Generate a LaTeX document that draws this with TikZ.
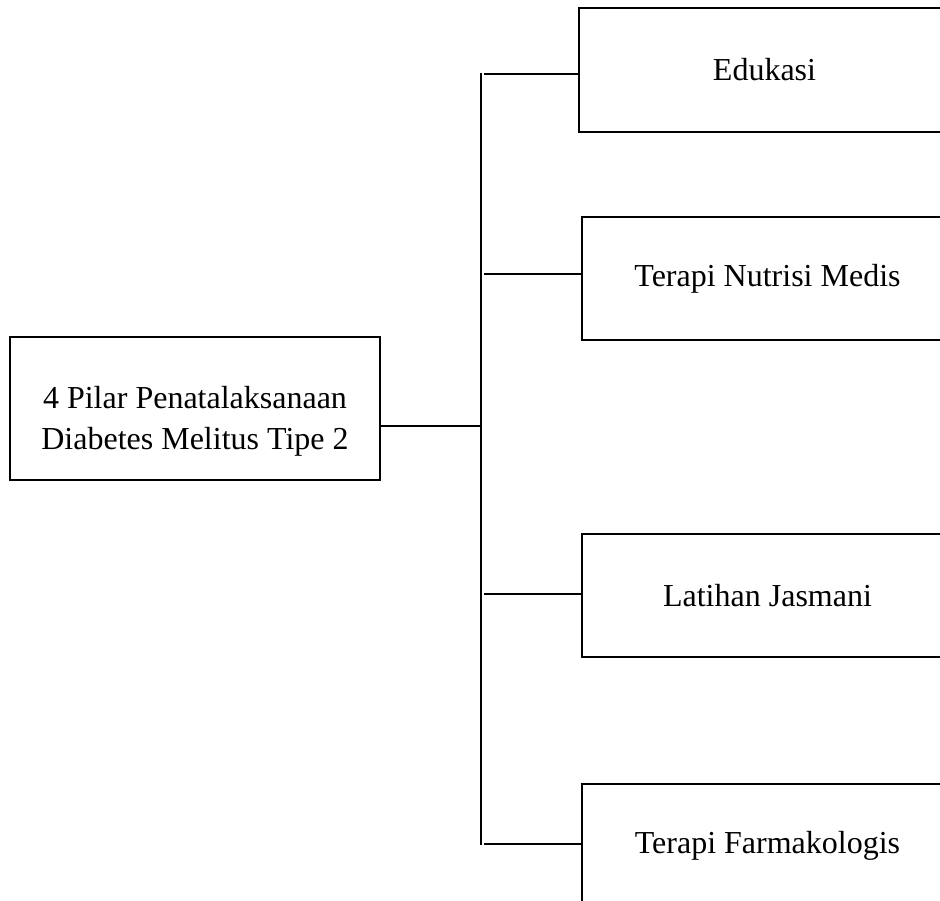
\documentclass[tikz,border=0pt]{standalone}
\usepackage{fontspec}
\setmainfont{Liberation Serif}
\begin{document}
\begin{tikzpicture}[x=1pt,y=-1pt,
  box/.style={draw=black,line width=2pt,inner sep=0pt},
  txt/.style={font=\fontsize{32}{41}\selectfont,align=center,inner sep=0pt},
  conn/.style={draw=black,line width=2pt}]
\useasboundingbox (0,0) rectangle (940,901);
\clip (0,0) rectangle (940,901);
% main box
\node[box,minimum width=370pt,minimum height=143pt] (main) at (195,408.5) {};
\node[txt] (maintxt) at (195,421) {4 Pilar Penatalaksanaan\\Diabetes Melitus Tipe 2};
% right boxes
\node[box,txt,minimum width=371pt,minimum height=124pt] (b1) at (764.5,70) {Edukasi};
\node[box,txt,minimum width=371pt,minimum height=123pt] (b2) at (767.5,278.5) {Terapi Nutrisi Medis};
\node[box,txt,minimum width=371pt,minimum height=123pt] (b3) at (767.5,595.5) {Latihan Jasmani};
\node[box,txt,minimum width=371pt,minimum height=123pt] (b4) at (767.5,845.5) {Terapi Farmakologis};
% trunk coordinates
\coordinate (j0) at (480,426);
\coordinate (j1) at (481,73);
\coordinate (j4) at (481,845);
\coordinate (k1) at (484,74);
\coordinate (k2) at (484,274);
\coordinate (k3) at (484,594);
\coordinate (k4) at (484,844);
\draw[conn] (main.east |- j0) -- (j0);
\draw[conn] (j1) -- (j4);
\draw[conn] (k1) -- (k1 -| b1.west);
\draw[conn] (k2) -- (k2 -| b2.west);
\draw[conn] (k3) -- (k3 -| b3.west);
\draw[conn] (k4) -- (k4 -| b4.west);
\end{tikzpicture}
\end{document}
